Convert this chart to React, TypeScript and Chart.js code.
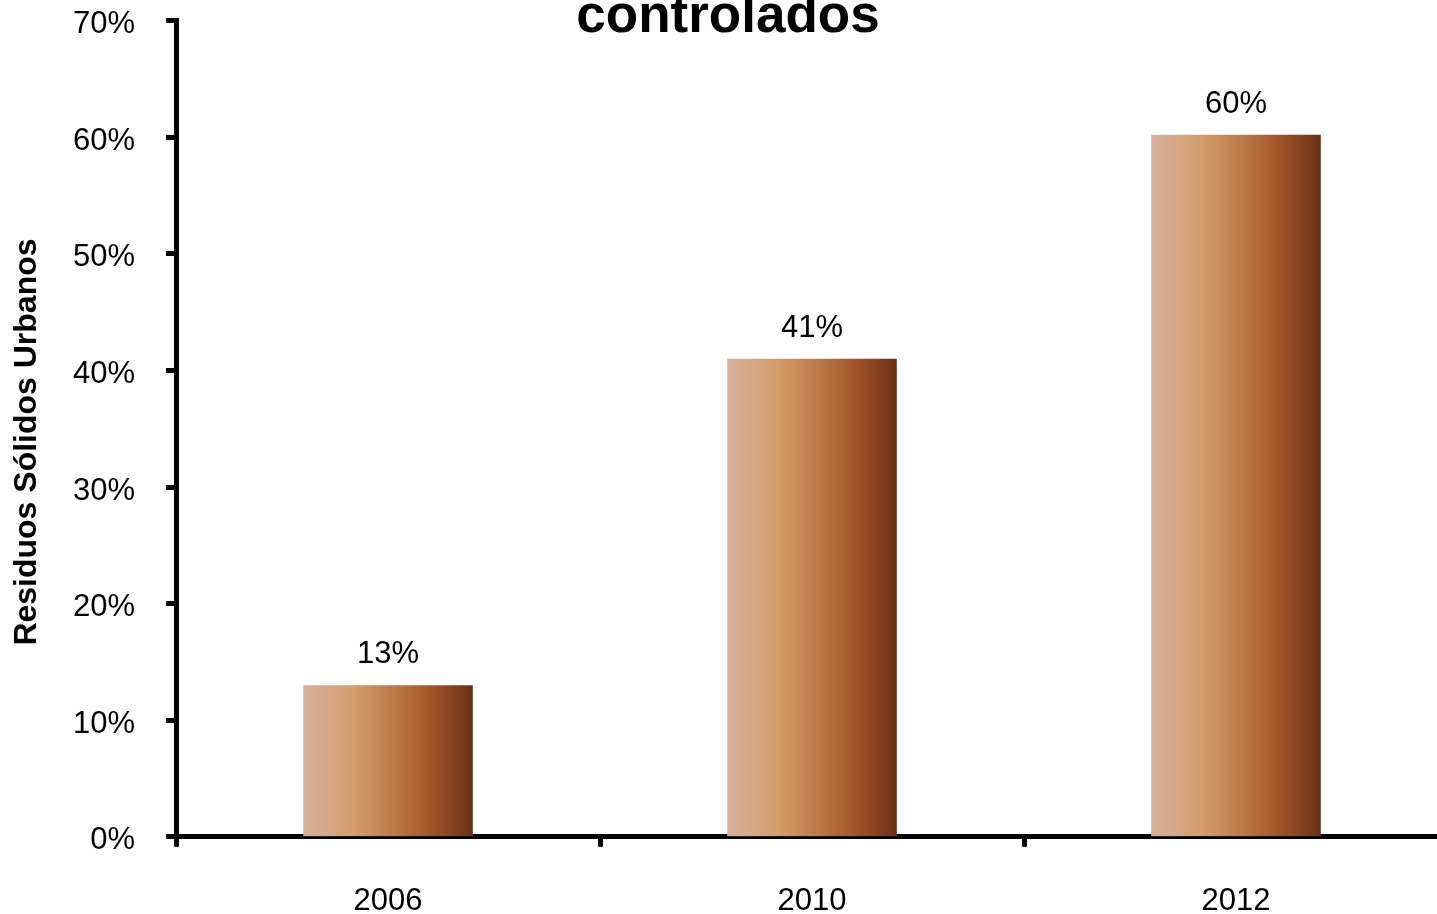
import React, { useEffect, useRef } from "react";
import { Chart, registerables } from "chart.js";

Chart.register(...registerables);

const categories: string[] = ["2006", "2010", "2012"];
const values: number[] = [13, 41, 60.2];
const yTickMax = 70;
const yTickStep = 10;
const titleText = "controlados";
const yAxisTitle = "Residuos Sólidos Urbanos   ";

const FONT = "'Liberation Sans', Arial, Helvetica, sans-serif";
const BAR_PCT = 0.4;
const gradientStops: [number, string][] = [
  [0, "#D6B19E"],
  [0.3, "#D49D6A"],
  [0.55, "#BA7748"],
  [0.75, "#A5552A"],
  [1, "#6A3016"],
];

function barGradient(c: any) {
  const chart = c.chart;
  const xs = chart.scales && chart.scales.x;
  if (!chart.chartArea || !xs || c.dataIndex === undefined) return "#C0804F";
  const cx = xs.getPixelForValue(c.dataIndex);
  const catW = xs.width / categories.length;
  const w = catW * BAR_PCT;
  const g = chart.ctx.createLinearGradient(cx - w / 2, 0, cx + w / 2, 0);
  gradientStops.forEach(([o, col]) => g.addColorStop(o, col));
  return g;
}

const valueLabelPlugin = {
  id: "valueLabels",
  afterDatasetsDraw(chart: any) {
    const ctx = chart.ctx;
    ctx.save();
    ctx.font = `31px ${FONT}`;
    ctx.fillStyle = "#000";
    ctx.textAlign = "center";
    ctx.textBaseline = "alphabetic";
    chart.getSortedVisibleDatasetMetas().forEach((meta: any) => {
      meta.data.forEach((bar: any, i: number) => {
        const { x, y } = bar.getProps(["x", "y"], true);
        const v = chart.data.datasets[meta.index].data[i] as number;
        ctx.fillText(`${Math.round(v)}%`, x, y - 22);
      });
    });
    ctx.restore();
  },
};

export default function App() {
  const ref = useRef<HTMLCanvasElement | null>(null);

  useEffect(() => {
    if (!ref.current) return;
    const chart = new Chart(ref.current, {
      type: "bar",
      data: {
        labels: categories,
        datasets: [
          {
            data: values,
            backgroundColor: barGradient,
            borderWidth: 0,
            barPercentage: BAR_PCT,
            categoryPercentage: 1,
          },
        ],
      },
      options: {
        responsive: false,
        animation: false,
        devicePixelRatio: 1,
        layout: { padding: { left: 8, right: 8, top: 0, bottom: 0 } },
        plugins: {
          legend: { display: false },
          tooltip: { enabled: false },
          title: {
            display: true,
            text: titleText,
            color: "#000",
            font: { family: FONT, size: 53, weight: "bold", lineHeight: 1.2 },
            padding: { top: 0, bottom: -29 },
          },
        },
        scales: {
          x: {
            grid: {
              display: true,
              drawOnChartArea: false,
              drawTicks: true,
              tickLength: 10,
              tickWidth: 5,
              tickColor: "#000",
              offset: true,
            },
            border: { display: true, color: "#000", width: 5 },
            ticks: {
              color: "#000",
              font: { family: FONT, size: 31 },
              padding: 36,
              maxRotation: 0,
            },
          },
          y: {
            min: 0,
            max: yTickMax,
            grid: {
              display: true,
              drawOnChartArea: false,
              drawTicks: true,
              tickLength: 10,
              tickWidth: 5,
              tickColor: "#000",
            },
            border: { display: true, color: "#000", width: 5 },
            ticks: {
              stepSize: yTickStep,
              color: "#000",
              font: { family: FONT, size: 31 },
              padding: 31,
              labelOffset: 4,
              callback: (v: any) => `${v}%`,
            },
            title: {
              display: true,
              text: yAxisTitle,
              color: "#000",
              font: { family: FONT, size: 32, weight: "bold", lineHeight: 1.2 },
              padding: { top: 0, bottom: -4.4 },
            },
          },
        },
      },
      plugins: [valueLabelPlugin],
    });
    return () => chart.destroy();
  }, []);

  return (
    <div
      style={{
        position: "fixed",
        left: 0,
        top: -29,
        width: 1456,
        height: 985,
        overflow: "hidden",
        background: "#fff",
      }}
    >
      <canvas ref={ref} width={1456} height={985} style={{ display: "block" }} />
    </div>
  );
}
